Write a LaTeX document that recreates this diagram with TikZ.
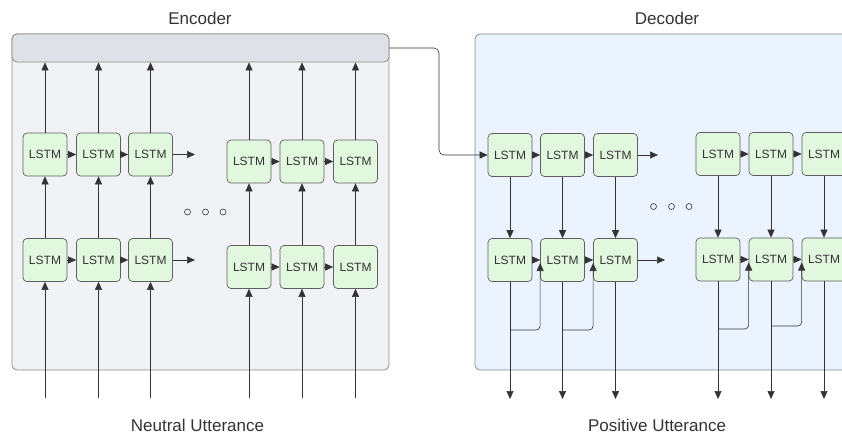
\documentclass[tikz,border=0pt]{standalone}
\usepackage{fontspec}
\setmainfont{Liberation Sans}
\usetikzlibrary{arrows.meta,calc}
\definecolor{encfill}{HTML}{F1F2F5}
\definecolor{barfill}{HTML}{DEE1E6}
\definecolor{decfill}{HTML}{EAF3FE}
\definecolor{lstmfill}{HTML}{E1F7DE}
\definecolor{edgec}{HTML}{5E5E5E}
\definecolor{framec}{HTML}{8C8C8C}
\definecolor{ink}{HTML}{333333}
\begin{document}
\begin{tikzpicture}[x=1pt,y=-1pt,
  lstm/.style={draw=edgec, fill=lstmfill, rounded corners=4pt, minimum width=44pt, minimum height=43pt, inner sep=0pt, font=\fontsize{12}{14}\selectfont, text=ink, line width=0.7pt},
  arr/.style={draw=ink, line width=0.6pt, -{Triangle[length=8pt,width=7pt]}},
  plain/.style={draw=ink, line width=0.6pt},
  title/.style={font=\fontsize{17}{20}\selectfont, text=ink, inner sep=0pt},
  frame/.style={draw=framec, line width=0.8pt, rounded corners=5pt},
  dot/.style={draw=ink, line width=0.6pt}
]
\useasboundingbox (0,0) rectangle (842,436);
\clip (0,0) rectangle (842,436);
\fill[white] (0,0) rectangle (842,436);

% frames
\draw[frame, fill=encfill] (12,34) rectangle (389,370);
\node[frame, fill=barfill, minimum width=377pt, minimum height=28pt, inner sep=0pt] (bar) at (200.5,48) {};
\draw[frame, fill=decfill] (475,34) rectangle (870,370);

% titles
\node[title] (enc) at (200,18) {Encoder};
\node[title] (dec) at (667,18) {Decoder};
\node[title] (neu) at (197.5,425) {Neutral Utterance};
\node[title] (pos) at (657,425) {Positive Utterance};

% encoder LSTMs
\node[lstm] (et1) at (45,154.5) {LSTM};
\node[lstm] (et2) at (98.5,154.5) {LSTM};
\node[lstm] (et3) at (150.5,154.5) {LSTM};
\node[lstm] (et4) at (249,161.5) {LSTM};
\node[lstm] (et5) at (302,161.5) {LSTM};
\node[lstm] (et6) at (355.5,161.5) {LSTM};
\node[lstm] (eb1) at (45,260) {LSTM};
\node[lstm] (eb2) at (98.5,260) {LSTM};
\node[lstm] (eb3) at (150.5,260) {LSTM};
\node[lstm] (eb4) at (249,267) {LSTM};
\node[lstm] (eb5) at (302,267) {LSTM};
\node[lstm] (eb6) at (355.5,267) {LSTM};

% decoder LSTMs
\node[lstm] (dt1) at (510,155) {LSTM};
\node[lstm] (dt2) at (562.5,155) {LSTM};
\node[lstm] (dt3) at (615.5,155) {LSTM};
\node[lstm] (dt4) at (718,154) {LSTM};
\node[lstm] (dt5) at (771,154) {LSTM};
\node[lstm] (dt6) at (824,154) {LSTM};
\node[lstm] (db1) at (510,260) {LSTM};
\node[lstm] (db2) at (562.5,260) {LSTM};
\node[lstm] (db3) at (615.5,260) {LSTM};
\node[lstm] (db4) at (718,259.5) {LSTM};
\node[lstm] (db5) at (771,259.5) {LSTM};
\node[lstm] (db6) at (824,259.5) {LSTM};

% helper coordinates
\coordinate (inbase) at (0,398);
\coordinate (outbase) at (0,399);
\coordinate (etend) at (195,154.5);
\coordinate (ebend) at (195,260);
\coordinate (dtend) at (658,155);
\coordinate (dbend) at (665,260);

% encoder horizontal
\draw[arr] (et1) -- (et2);
\draw[arr] (et2) -- (et3);
\draw[arr] (et3) -- (etend);
\draw[arr] (et4) -- (et5);
\draw[arr] (et5) -- (et6);
\draw[arr] (eb1) -- (eb2);
\draw[arr] (eb2) -- (eb3);
\draw[arr] (eb3) -- (ebend);
\draw[arr] (eb4) -- (eb5);
\draw[arr] (eb5) -- (eb6);

% encoder vertical
\foreach \i in {1,...,6} {
  \draw[arr] (eb\i |- inbase) -- (eb\i.south);
  \draw[arr] (eb\i.north) -- (et\i.south);
  \draw[arr] (et\i.north) -- (et\i |- bar.south);
}

% encoder -> decoder
\coordinate (bend) at (439,100);
\draw[arr, rounded corners=5pt] (bar.east) -| (bend) |- (dt1.west);

% decoder horizontal
\draw[arr] (dt1) -- (dt2);
\draw[arr] (dt2) -- (dt3);
\draw[arr] (dt3) -- (dtend);
\draw[arr] (dt4) -- (dt5);
\draw[arr] (dt5) -- (dt6);
\draw[arr] (db1) -- (db2);
\draw[arr] (db2) -- (db3);
\draw[arr] (db3) -- (dbend);
\draw[arr] (db4) -- (db5);
\draw[arr] (db5) -- (db6);

% decoder vertical
\foreach \i in {1,...,6} {
  \draw[arr] (dt\i.south) -- (db\i.north);
  \draw[arr] (db\i.south) -- (db\i |- outbase);
}

% feedback
\coordinate (fy1) at (0,330);
\coordinate (fy2) at (0,330);
\coordinate (fy4) at (0,329);
\coordinate (fy5) at (0,326);
\draw[arr, rounded corners=4pt] (db1 |- fy1) -| ($(db2.west)+(0,3)$);
\draw[arr, rounded corners=4pt] (db2 |- fy2) -| ($(db3.west)+(0,3)$);
\draw[arr, rounded corners=4pt] (db4 |- fy4) -| ($(db5.west)+(0,3)$);
\draw[arr, rounded corners=4pt] (db5 |- fy5) -| ($(db6.west)+(0,3)$);

% ellipsis dots
\draw[dot] (187.5,212) circle (3);
\draw[dot] (205.5,212) circle (3);
\draw[dot] (223,212) circle (3);
\draw[dot] (653.5,206.5) circle (3);
\draw[dot] (671.5,206.5) circle (3);
\draw[dot] (689,206.5) circle (3);
\end{tikzpicture}
\end{document}
